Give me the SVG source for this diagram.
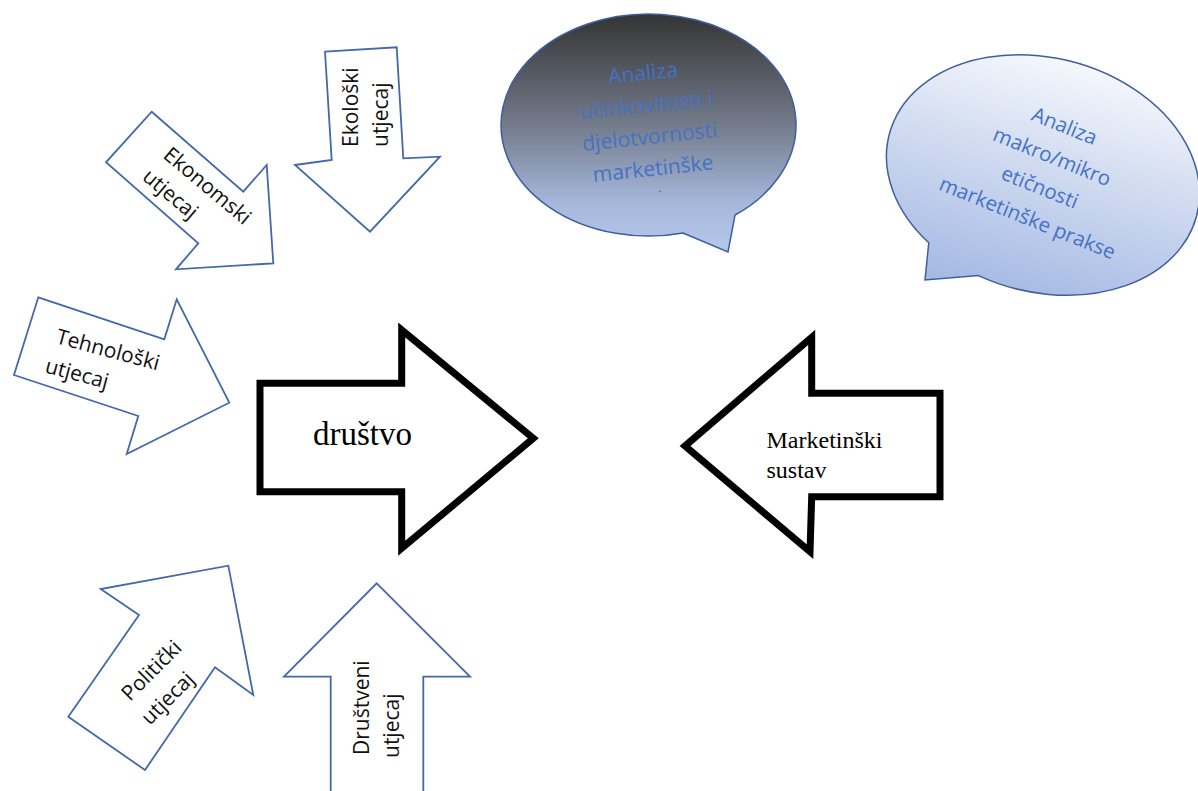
<svg xmlns="http://www.w3.org/2000/svg" width="1198" height="791" viewBox="0 0 1198 791">
<defs>
<linearGradient id="g1" x1="0" y1="0" x2="0" y2="1">
<stop offset="0" stop-color="#343434"/>
<stop offset="0.45" stop-color="#717887"/>
<stop offset="0.8" stop-color="#a6b9dd"/>
<stop offset="1" stop-color="#b5c8ea"/>
</linearGradient>
<linearGradient id="g2" x1="0" y1="0" x2="0" y2="1">
<stop offset="0" stop-color="#f5f7fc"/>
<stop offset="0.5" stop-color="#cbd7ef"/>
<stop offset="1" stop-color="#a3b8e3"/>
</linearGradient>
<style>
.blue{fill:#ffffff;stroke:#4468a8;stroke-width:1.8;stroke-linejoin:miter}
.black{fill:#ffffff;stroke:#000000;stroke-width:7;stroke-linejoin:miter}
.bub{stroke:#3f5f9c;stroke-width:1.5}
.t{font-family:"Open Sans","Liberation Sans",sans-serif;font-size:21px;fill:#111111}
.s{font-family:"Liberation Serif","Times New Roman",serif;fill:#000000}
.bt{font-family:"Open Sans","Liberation Sans",sans-serif;fill:#4472c4;text-anchor:middle}
</style>
</defs>
<rect width="1198" height="791" fill="#ffffff"/>

<g id="ekonomski">
<polygon class="blue" points="151.7,111.7 243.3,191.7 266.7,165 273.3,263.3 176,269.3 198.3,243.3 106,162.3"/>
<g transform="translate(162,157) rotate(40)">
<text class="t" x="0" y="0">Ekonomski</text>
<text class="t" x="-2" y="30">utjecaj</text>
</g>
</g>

<g id="ekoloski">
<polygon class="blue" points="325,51.7 396.7,47.3 403.3,158.3 440,156.7 370,231.7 295,165 331.7,160"/>
<g transform="translate(358,147) rotate(-90)">
<text class="t" x="0" y="0">Ekološki</text>
<text class="t" x="0" y="30">utjecaj</text>
</g>
</g>

<g id="tehnoloski">
<polygon class="blue" points="38.3,297.3 164.3,339.3 176.7,299.3 229.3,402.7 126.7,454 138.3,416 14,375"/>
<g transform="translate(55,343) rotate(15)">
<text class="t" x="0" y="0">Tehnološki</text>
<text class="t" x="-3" y="31">utjecaj</text>
</g>
</g>

<g id="politicki">
<polygon class="blue" points="139,615 100.7,589 228.3,565.7 253.3,695 215,667.3 145,770 68.3,716.7"/>
<g transform="translate(130,702) rotate(-45)">
<text class="t" x="0" y="0">Politički</text>
<text class="t" x="-3" y="31">utjecaj</text>
</g>
</g>

<g id="drustveni">
<polygon class="blue" points="376.7,583.3 470,676.7 423.3,676.7 423.3,800 330.7,800 330.7,676.7 284,676.7"/>
<g transform="translate(369,755) rotate(-90)">
<text class="t" x="0" y="0">Društveni</text>
<text class="t" x="-3" y="30">utjecaj</text>
</g>
</g>

<g id="drustvo">
<polygon class="black" points="260,383.3 401.7,383.3 401.7,330 533.3,438.3 401.7,548.3 401.7,491.7 260,491.7"/>
<text class="s" x="313" y="445" font-size="33">društvo</text>
</g>

<g id="marketinski-sustav">
<polygon class="black" points="685,446 811.7,337.3 811.7,393.3 940,393.3 940,496.7 811.7,496.7 810,551.7"/>
<text class="s" x="766.5" y="448" font-size="24">Marketinški</text>
<text class="s" x="766.5" y="478" font-size="24">sustav</text>
</g>

<g id="bubble-ucinkovitost">
<path class="bub" fill="url(#g1)" d="M683,233 L728,252 L735,215 A147.5,111 0 1 0 683,233 Z"/>
<g transform="translate(648,121) rotate(-6)" font-size="21">
<text class="bt" x="0" y="-41">Analiza</text>
<text class="bt" x="0" y="-9">učinkovitosti i</text>
<text class="bt" x="0" y="23">djelotvornosti</text>
<text class="bt" x="0" y="55">marketinške</text>
<text x="4.5" y="72" font-family="Open Sans, sans-serif" font-size="12" fill="#505050" text-anchor="middle">.</text>
</g>
</g>

<g id="bubble-eticnost">
<path class="bub" fill="url(#g2)" transform="translate(1043,175) rotate(15)" d="M-92.8,95 L-86.8,132 L-36.3,113.9 A159,117 0 1 0 -92.8,95 Z"/>
<g transform="translate(1046,172) rotate(22)" font-size="20.5">
<text class="bt" x="0" y="-42.5">Analiza</text>
<text class="bt" x="0" y="-9.5">makro/mikro</text>
<text class="bt" x="0" y="23.5">etičnosti</text>
<text class="bt" x="0" y="56.5">marketinške prakse</text>
</g>
</g>
</svg>
